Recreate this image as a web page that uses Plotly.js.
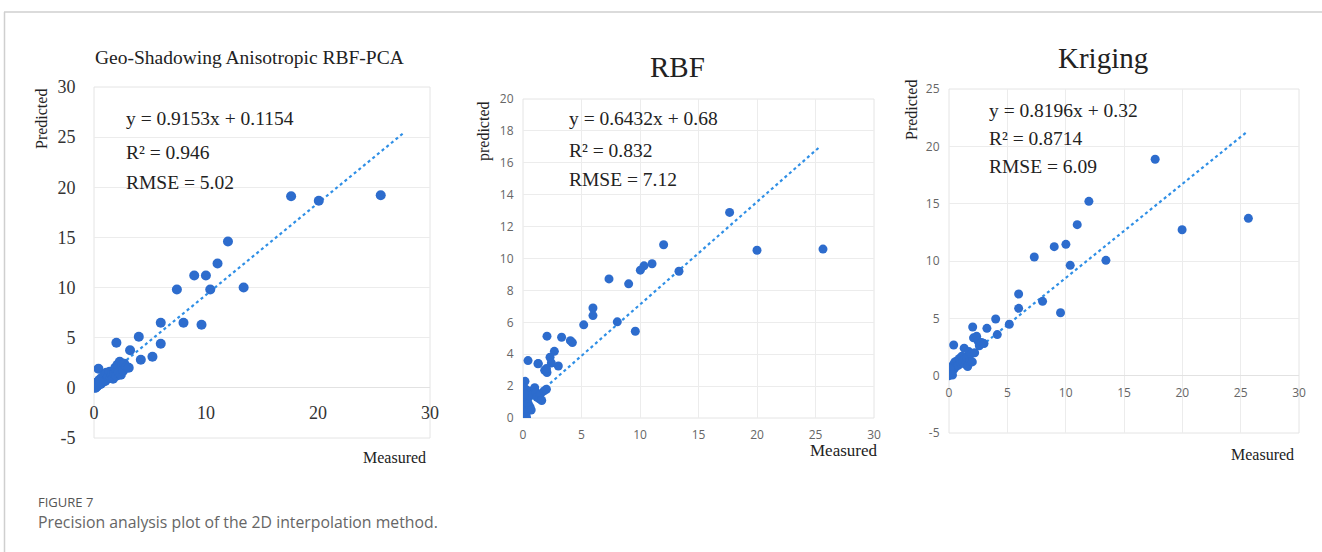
<!DOCTYPE html>
<html>
<head>
<meta charset="utf-8">
<script src="https://cdn.plot.ly/plotly-3.0.1.min.js"></script>
<style>
html,body{margin:0;padding:0;background:#fff;}
#chart{width:1322px;height:552px;}
</style>
</head>
<body>
<div id="chart"></div>
<script>
// ---------- Data ----------
// Panel 1: Geo-Shadowing Anisotropic RBF-PCA
const p1Measured = [25.6,17.6,20.07,11.96,11.03,8.95,9.99,7.4,10.38,13.36,5.96,7.99,9.6,4.0,2.0,5.96,3.22,4.18,5.22,
  0.05,0.1,0.15,0.2,0.3,0.35,0.4,0.5,0.6,0.7,0.8,0.9,1.0,1.1,1.2,1.3,1.4,1.5,1.6,1.7,1.8,1.9,2.0,2.1,2.2,2.3,2.4,2.5,2.6,2.7,2.9,3.1,0.1,0.25,0.45,0.55];
const p1Predicted = [19.2,19.1,18.66,14.6,12.4,11.2,11.2,9.8,9.8,10.0,6.5,6.5,6.3,5.1,4.5,4.4,3.75,2.8,3.1,
  0.1,0.3,0.05,0.5,0.2,0.6,1.9,0.8,0.4,1.0,0.6,1.2,0.7,1.5,0.9,1.1,1.6,1.0,1.3,0.9,1.4,2.0,1.2,2.3,1.5,2.6,1.3,2.2,1.7,2.4,2.1,2.0,0.0,0.15,0.35,0.55];
const p1TrendX = [0, 27.7];
const p1TrendY = [0.12, 25.47];
const p1Stats = ["y = 0.9153x + 0.1154", "R² = 0.946", "RMSE = 5.02"];
const p1YTicks = [-5, 0, 5, 10, 15, 20, 25, 30];
const p1YTickText = ["-5", "0", "5", "10", "15", "20", "25", "30"];

// Panel 2: RBF
const p2Measured = [25.64,20.0,17.66,12.02,11.03,10.34,10.03,13.33,7.35,9.03,5.98,5.98,5.19,8.06,9.6,2.05,3.3,4.05,4.22,2.68,2.31,2.42,3.02,1.31,1.85,2.05,0.43,0.17,
  0.02,0.05,0.08,0.1,0.12,0.15,0.18,0.2,0.22,0.25,0.28,0.3,0.35,0.4,0.45,0.5,0.55,0.6,0.7,0.8,1.0,1.1,1.2,1.4,1.5,1.6,1.8,2.0,0.05,0.3,0.1,1.28,2.0];
const p2Predicted = [10.59,10.52,12.89,10.86,9.67,9.54,9.27,9.2,8.72,8.41,6.9,6.42,5.84,6.03,5.44,5.13,5.06,4.85,4.73,4.18,3.81,3.45,3.26,3.41,2.99,2.85,3.6,2.3,
  0.0,0.2,0.5,0.1,0.8,1.1,0.3,1.4,1.8,0.6,1.0,1.6,0.4,1.2,0.9,1.7,1.4,0.7,0.5,1.5,1.9,1.6,1.3,1.2,1.5,1.1,1.7,1.8,1.9,0.05,1.5,3.4,3.1];
const p2TrendX = [0, 25.44];
const p2TrendY = [0.68, 17.05];
const p2Stats = ["y = 0.6432x + 0.68", "R² = 0.832", "RMSE = 7.12"];

// Panel 3: Kriging
const p3Measured = [17.67,25.66,19.98,11.99,10.99,10.02,9.02,7.31,10.39,13.45,5.97,5.97,8.02,9.56,4.0,5.17,3.25,4.14,2.03,0.4,
  0.02,0.05,0.1,0.15,0.2,0.25,0.3,0.4,0.45,0.5,0.6,0.7,0.8,0.9,1.0,1.1,1.2,1.3,1.4,1.5,1.6,1.7,1.8,1.9,2.0,2.1,2.2,2.37,2.5,2.6,2.8,3.0,0.1,0.3];
const p3Predicted = [18.87,13.72,12.73,15.2,13.17,11.45,11.25,10.35,9.62,10.06,7.12,5.87,6.48,5.49,4.94,4.48,4.13,3.58,4.24,2.67,
  0.0,0.3,0.1,0.5,0.2,0.8,0.4,1.0,0.6,1.2,0.8,1.3,0.9,1.5,1.1,1.7,1.2,2.4,1.0,1.6,0.8,2.1,1.3,1.9,1.2,3.3,2.0,3.43,3.0,2.6,2.9,2.8,0.6,0.05];
const p3TrendX = [0, 25.49];
const p3TrendY = [0.32, 21.22];
const p3Stats = ["y = 0.8196x + 0.32", "R² = 0.8714", "RMSE = 6.09"];
const p3YTicks = [-5, 0, 5, 10, 15, 20, 25];
const p3YTickText = ["-5", "0", "5", "10", "15", "20", "25"];

const panelTitles = ["Geo-Shadowing Anisotropic RBF-PCA", "RBF", "Kriging"];
const yTitles = ["Predicted", "predicted", "Predicted"];
const xTitle = "Measured";
const captionHead = "FIGURE 7";
const captionText = "Precision analysis plot of the 2D interpolation method.";

// ---------- Styling helpers ----------
const W = 1322, H = 552;
const px = v => v / W;
const py = v => 1 - v / H;
const SERIF = "Liberation Serif, Times New Roman, serif";
const SANS = "Open Sans, Noto Sans, sans-serif";
const DOT = "#2d6ccd";
const TREND = "#2f8fe6";

function scatter(x, y, xa, ya, size) {
  return {x: x, y: y, xaxis: xa, yaxis: ya, type: "scatter", mode: "markers",
    marker: {color: DOT, size: size}, showlegend: false, hoverinfo: "skip"};
}
function trend(x, y, xa, ya) {
  return {x: x, y: y, xaxis: xa, yaxis: ya, type: "scatter", mode: "lines",
    line: {color: TREND, width: 2.2, dash: "dot"}, showlegend: false, hoverinfo: "skip"};
}

const data = [
  trend(p1TrendX, p1TrendY, "x", "y"),
  scatter(p1Measured, p1Predicted, "x", "y", 10),
  trend(p2TrendX, p2TrendY, "x2", "y2"),
  scatter(p2Measured, p2Predicted, "x2", "y2", 9),
  trend(p3TrendX, p3TrendY, "x3", "y3"),
  scatter(p3Measured, p3Predicted, "x3", "y3", 9)
];

const annotations = [];
function txt(text, x, y, size, opts) {
  annotations.push(Object.assign({text: text, x: x, y: y, xref: "paper", yref: "paper",
    showarrow: false, font: {family: SERIF, size: size, color: "#222"},
    xanchor: "center", yanchor: "middle"}, opts || {}));
}
// titles
txt(panelTitles[0], px(250), py(57), 19.5);
txt(panelTitles[1], px(677), py(67), 29);
txt(panelTitles[2], px(1103), py(58), 29);
// y titles
txt(yTitles[0], px(42), py(119), 16, {textangle: -90});
txt(yTitles[1], px(484), py(131), 16, {textangle: -90});
txt(yTitles[2], px(911), py(110), 16, {textangle: -90});
// x titles
txt(xTitle, px(395), py(457), 16);
txt(xTitle, px(844), py(450), 17);
txt(xTitle, px(1262), py(454), 16);
// stats
const statPos = [[124, [118, 152, 182], p1Stats, 19.5], [567, [119, 150, 179], p2Stats, 19.5], [987, [110, 138, 166], p3Stats, 19.5]];
statPos.forEach(s => s[2].forEach((t, i) => txt(t, px(s[0]), py(s[1][i]), s[3], {xanchor: "left"})));
// caption
txt(captionHead, px(36), py(502), 13, {xanchor: "left", font: {family: SANS, size: 13, color: "#555"}});
txt(captionText, px(36), py(522), 15.8, {xanchor: "left", font: {family: SANS, size: 15.8, color: "#666"}});

const gridC = "#ececec";
const layout = {
  width: W, height: H,
  margin: {l: 0, r: 0, t: 0, b: 0},
  paper_bgcolor: "#fff", plot_bgcolor: "#fff",
  showlegend: false,
  // Panel 1
  xaxis: {domain: [px(94), px(430)], range: [0, 30], dtick: 10, tick0: 0, anchor: "free", position: py(388),
    showgrid: false, zeroline: false, showline: false, ticks: "outside", ticklen: 8, tickcolor: "rgba(0,0,0,0)",
    tickfont: {family: SERIF, size: 18, color: "#333"}},
  yaxis: {domain: [py(438), py(87)], range: [-5, 30], tickmode: "array", tickvals: p1YTicks, ticktext: p1YTickText, anchor: "x",
    showgrid: true, gridcolor: gridC, zeroline: true, zerolinecolor: "#e2e2e2", zerolinewidth: 1, showline: false,
    ticks: "outside", ticklen: 14, tickcolor: "rgba(0,0,0,0)",
    tickfont: {family: SERIF, size: 18, color: "#333"}},
  // Panel 2
  xaxis2: {domain: [px(523), px(874)], range: [0, 30], dtick: 5, tick0: 0, anchor: "y2",
    showgrid: true, gridcolor: gridC, zeroline: false, showline: false, ticks: "outside", ticklen: 6, tickcolor: "rgba(0,0,0,0)",
    tickfont: {family: SANS, size: 12, color: "#666"}},
  yaxis2: {domain: [py(418), py(99)], range: [0, 20], dtick: 2, tick0: 0, anchor: "x2",
    showgrid: true, gridcolor: gridC, zeroline: false, showline: false, ticks: "outside", ticklen: 6, tickcolor: "rgba(0,0,0,0)",
    tickfont: {family: SANS, size: 12, color: "#666"}},
  // Panel 3
  xaxis3: {domain: [px(949), px(1299)], range: [0, 30], dtick: 5, tick0: 0, anchor: "free", position: py(376),
    showgrid: true, gridcolor: gridC, zeroline: false, showline: false, ticks: "outside", ticklen: 6, tickcolor: "rgba(0,0,0,0)",
    tickfont: {family: SANS, size: 12, color: "#666"}},
  yaxis3: {domain: [py(433), py(89)], range: [-5, 25], tickmode: "array", tickvals: p3YTicks, ticktext: p3YTickText, anchor: "x3",
    showgrid: true, gridcolor: gridC, zeroline: true, zerolinecolor: "#e2e2e2", zerolinewidth: 1, showline: false,
    ticks: "outside", ticklen: 6, tickcolor: "rgba(0,0,0,0)",
    tickfont: {family: SANS, size: 12, color: "#666"}},
  annotations: annotations,
  shapes: [
    // plot borders
    {type: "rect", xref: "x domain", yref: "y domain", x0: 0, x1: 1, y0: 0, y1: 1, line: {color: "#e4e4e4", width: 1}, layer: "below"},
    {type: "rect", xref: "x2 domain", yref: "y2 domain", x0: 0, x1: 1, y0: 0, y1: 1, line: {color: "#e4e4e4", width: 1}, layer: "below"},
    {type: "rect", xref: "x3 domain", yref: "y3 domain", x0: 0, x1: 1, y0: 0, y1: 1, line: {color: "#e4e4e4", width: 1}, layer: "below"},
    // figure frame
    {type: "line", xref: "paper", yref: "paper", x0: px(4), x1: 1, y0: py(12), y1: py(12), line: {color: "#cfcfcf", width: 1.5}},
    {type: "line", xref: "paper", yref: "paper", x0: px(4.5), x1: px(4.5), y0: py(12), y1: 0, line: {color: "#cfcfcf", width: 1.5}}
  ]
};

Plotly.newPlot("chart", data, layout, {staticPlot: true, displayModeBar: false});
</script>
</body>
</html>
